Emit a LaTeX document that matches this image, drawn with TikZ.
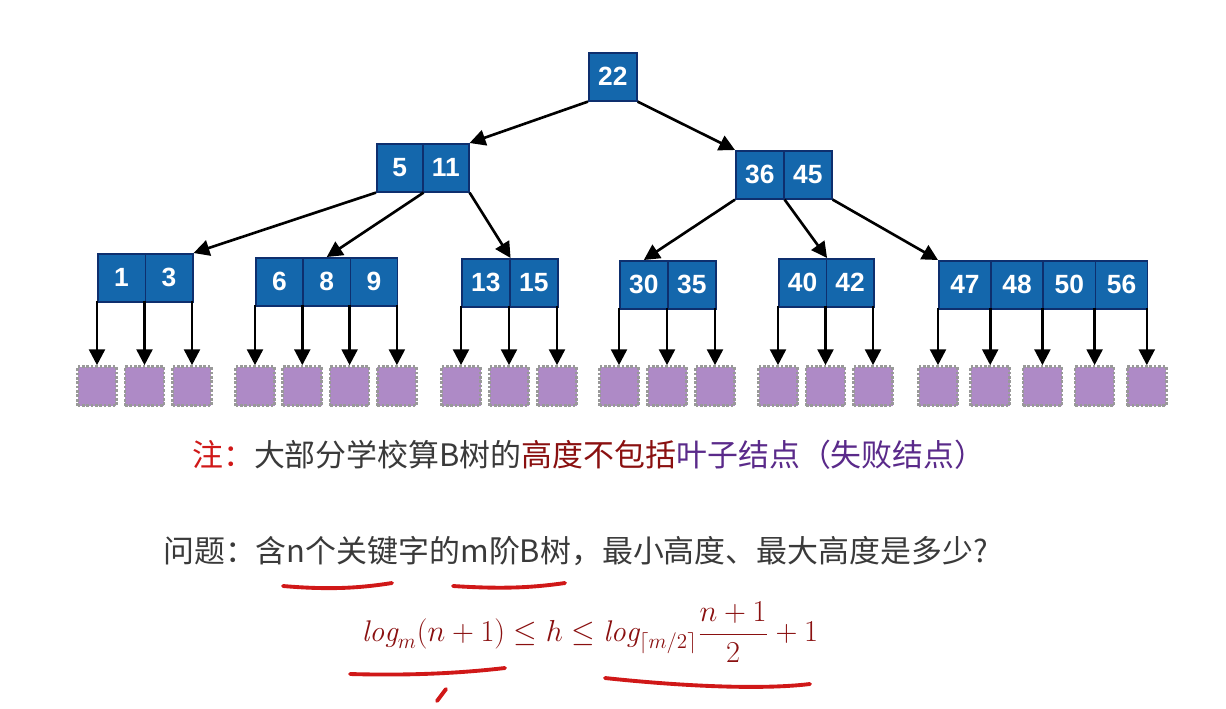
\documentclass[tikz,border=0pt]{standalone}
\usepackage{fontspec}
\setsansfont{Liberation Sans}
\newfontfamily\cjk{Noto Sans CJK SC}
\usetikzlibrary{arrows.meta}
\definecolor{kblue}{HTML}{1467AC}
\definecolor{navy}{HTML}{0E2F6E}
\definecolor{leafp}{HTML}{AE8AC6}
\definecolor{dred}{HTML}{A01010}
\definecolor{hred}{HTML}{D01818}
\definecolor{gtxt}{HTML}{3A3A3A}
\definecolor{purp}{HTML}{5A2A8A}
\definecolor{mred}{HTML}{8A1010}
\tikzset{
 key/.style={draw=navy,fill=kblue,text=white,font=\sffamily\bfseries\fontsize{15}{15}\selectfont,minimum height=0.96cm,inner sep=0,line width=0.9pt,anchor=north west},
 fail/.style={fill=leafp,draw=gray!80,densely dotted,line width=1.5pt,minimum size=0.78cm,inner sep=0},
 arr/.style={line width=1.5pt,-{Triangle[length=9pt,width=9pt]}},
 pen/.style={hred,line width=2.2pt,line cap=round}
}
\newcommand{\bnode}[5]{% name, x, y, w(px), keys
 \foreach \k [count=\i] in {#5}{
  \node[key,minimum width={#4*0.02cm}] (#1-\i) at ({#2+(\i-1)*#4},#3) {\k};
 }}
\newcommand{\bleaf}[6]{% name,x,y,w,keys,count
 \bnode{#1}{#2}{#3}{#4}{#5}
 \foreach \j in {0,...,#6}{
  \coordinate (#1-b\j) at ({#2+\j*#4},{#3+48});
  \node[fail] (#1-f\j) at ({#2+\j*#4},386) {};
  \draw[arr] (#1-b\j) -- (#1-f\j.north);
 }}
\begin{document}
\begin{tikzpicture}[x=0.02cm,y=-0.02cm]
\fill[white] (0,0) rectangle (1226,708);
\bnode{r}{588}{52}{48}{22}
\bnode{a}{376}{143}{46}{5,11}
\bnode{b}{735}{150}{48}{36,45}
\bleaf{l1}{97}{253}{47.5}{1,3}{2}
\bleaf{l2}{255}{257}{47.3}{6,8,9}{3}
\bleaf{l3}{461}{258}{48}{13,15}{2}
\bleaf{l4}{619}{260}{48}{30,35}{2}
\bleaf{l5}{778}{258}{47.5}{40,42}{2}
\bleaf{l6}{938}{260}{52.2}{47,48,50,56}{4}
\draw[arr] (r-1.south west) -- (a-2.north east);
\draw[arr] (r-1.south east) -- (b-1.north west);
\draw[arr] (a-1.south west) -- (l1-2.north east);
\draw[arr] (a-1.south east) -- (l2-2.north);
\draw[arr] (a-2.south east) -- (l3-1.north east);
\draw[arr] (b-1.south west) -- (l4-1.north);
\draw[arr] (b-1.south east) -- (l5-1.north east);
\draw[arr] (b-2.south east) -- (l6-1.north west);
\node[anchor=west,font=\cjk\fontsize{17.6}{18}\selectfont] (note) at (186,455)
 {\textcolor{hred}{注：}\textcolor{gtxt}{大部分学校算B树的}\textcolor{mred}{高度不包括}\textcolor{purp}{叶子结点（失败结点）}};
\node[anchor=west,font=\cjk\fontsize{17.6}{18}\selectfont,text=gtxt] (q) at (157,551)
 {问题：含n个关键字的m阶B树，最小高度、最大高度是多少?};
\node[text=mred,font=\fontsize{17}{17}\selectfont] (f) at (590,632)
 {$\displaystyle\mathit{log}_m(n+1)\le h\le \mathit{log}_{\lceil m/2\rceil}\frac{n+1}{2}+1$};
\draw[pen] (283,586) .. controls (330,590) and (360,588) .. (392,583);
\draw[pen] (453,586) .. controls (500,589) and (530,588) .. (565,583);
\draw[pen] (350,674) .. controls (420,676) and (470,672) .. (505,668);
\draw[pen] (605,678) .. controls (680,686) and (760,690) .. (810,684);
\draw[pen] (437,701) -- (446,689);
\end{tikzpicture}
\end{document}
